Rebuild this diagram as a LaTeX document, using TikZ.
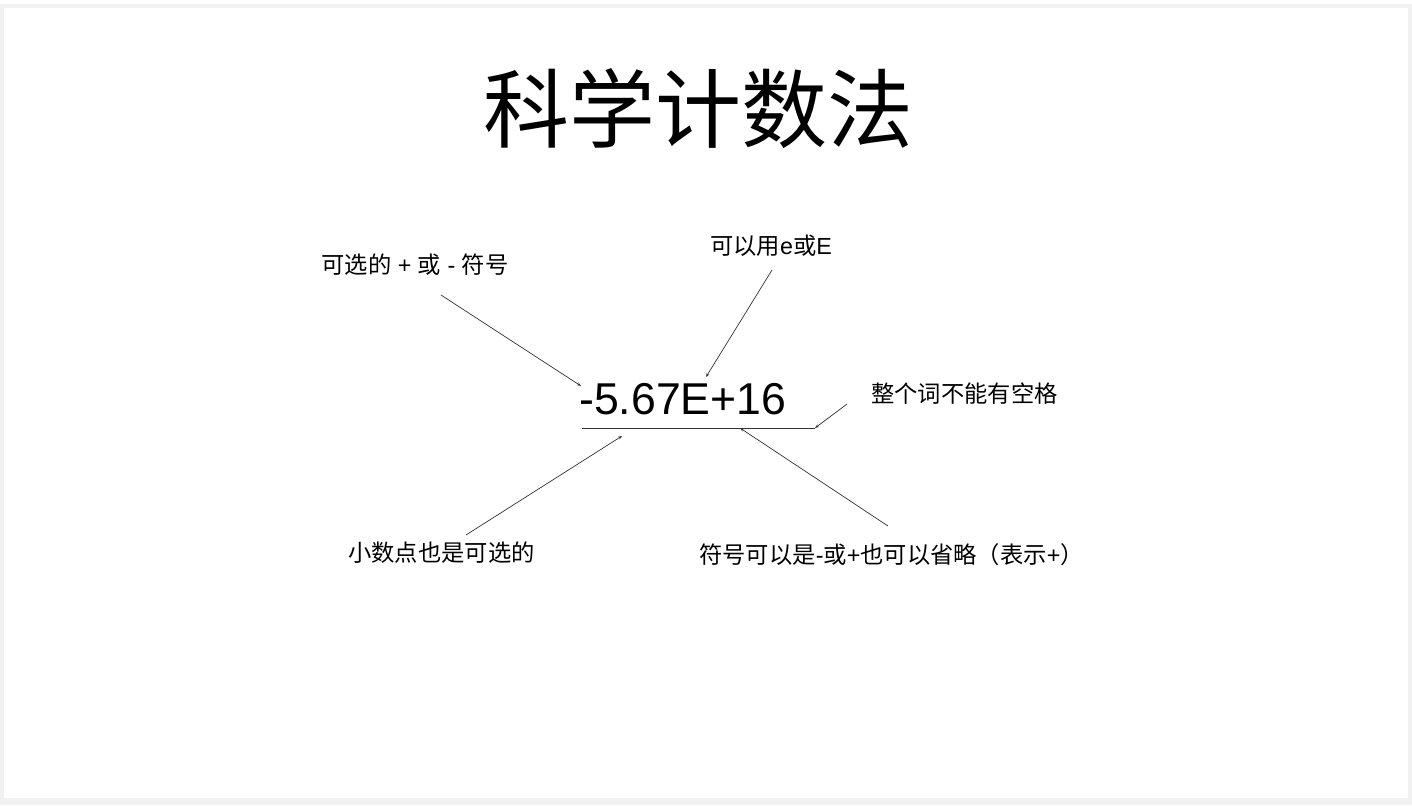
\documentclass[tikz,border=0pt]{standalone}
\usepackage{fontspec}
\setmainfont{Liberation Sans}
\newfontfamily\cjk{Noto Sans CJK SC}
\usetikzlibrary{arrows.meta}
\definecolor{slidegray}{HTML}{F1F1F1}
\begin{document}
\begin{tikzpicture}[x=1pt,y=-1pt,
  lbl/.style={inner sep=0pt, font=\fontsize{23.3}{26}\selectfont},
  ptr/.style={draw=black!80, line width=0.7pt, -{Stealth[length=4pt,width=3pt]}},
  rule/.style={draw=black!80, line width=0.8pt}]
\useasboundingbox (0,0) rectangle (1412,805);
\fill[slidegray] (0,0) rectangle (1412,805);
\fill[white] (0,0) rectangle (1412,4);
\fill[white] (4,8) rectangle (1408,798);

\node[inner sep=0pt, font=\cjk\fontsize{86}{90}\selectfont] (title) at (698,109) {科学计数法};

\node[anchor=base west, inner sep=0pt, font=\fontsize{44.6}{50}\selectfont] (num) at (579,414) {-5.67E+16};

\node[lbl] (l1) at (415,265) {{\cjk 可选的} + {\cjk 或} - {\cjk 符号}};
\node[lbl] (l2) at (771,246) {{\cjk 可以用}e{\cjk 或}E};
\node[lbl] (l3) at (964.5,394) {{\cjk 整个词不能有空格}};
\node[lbl] (l4) at (441.5,553) {{\cjk 小数点也是可选的}};
\node[lbl] (l5) at (891.5,555) {{\cjk 符号可以是}-{\cjk 或}+{\cjk 也可以省略（表示}+{\cjk ）}};

\coordinate (s1) at (441,295);  \coordinate (e1) at (581,386);
\coordinate (s2) at (772,270);  \coordinate (e2) at (706,377);
\coordinate (s3) at (847,404);  \coordinate (e3) at (815,428);
\coordinate (u1) at (582,428);  \coordinate (u2) at (815,428);
\coordinate (s5) at (466,535);  \coordinate (e5) at (622,436);
\coordinate (s6) at (888,526);  \coordinate (e6) at (740,428);

\draw[rule] (u1) -- (u2);
\draw[ptr] (s1) -- (e1);
\draw[ptr] (s2) -- (e2);
\draw[ptr] (s3) -- (e3);
\draw[ptr] (s5) -- (e5);
\draw[ptr] (s6) -- (e6);
\end{tikzpicture}
\end{document}
